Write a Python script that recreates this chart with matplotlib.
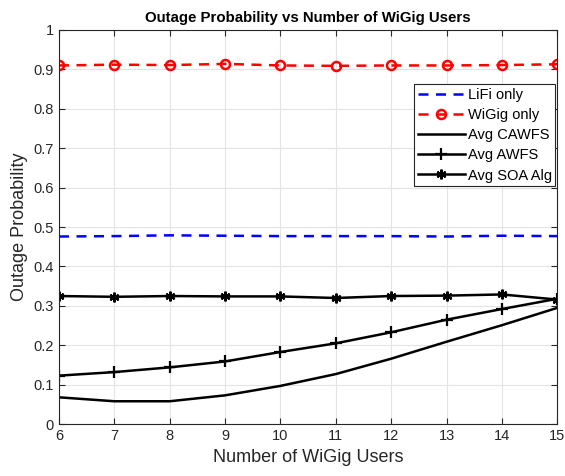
import matplotlib.pyplot as plt

plt.rcParams['font.family'] = ['Liberation Sans', 'DejaVu Sans']

users = [6, 7, 8, 9, 10, 11, 12, 13, 14, 15]
lifi_only = [0.476, 0.477, 0.479, 0.478, 0.477, 0.477, 0.477, 0.476, 0.478, 0.477]
wigig_only = [0.910, 0.912, 0.911, 0.914, 0.910, 0.909, 0.910, 0.910, 0.911, 0.913]
avg_cawfs = [0.068, 0.058, 0.058, 0.073, 0.097, 0.127, 0.166, 0.209, 0.251, 0.295]
avg_awfs = [0.123, 0.132, 0.144, 0.159, 0.183, 0.205, 0.233, 0.265, 0.292, 0.318]
avg_soa = [0.325, 0.323, 0.325, 0.324, 0.324, 0.320, 0.325, 0.326, 0.329, 0.316]

fig = plt.figure(figsize=(5.65, 4.76), dpi=100)
ax = fig.add_axes([0.1044, 0.109, 0.882, 0.828])

ax.plot(users, lifi_only, '--', color='blue', lw=1.8, dashes=(4, 3), label='LiFi only')
ax.plot(users, wigig_only, '--', color='red', lw=1.8, dashes=(4, 3), marker='o',
        markersize=6.5, markerfacecolor='none', markeredgewidth=1.8, label='WiGig only')
ax.plot(users, avg_cawfs, '-', color='black', lw=1.8, label='Avg CAWFS')
ax.plot(users, avg_awfs, '-', color='black', lw=1.8, marker='+', markersize=8,
        markeredgewidth=1.6, label='Avg AWFS')
ax.plot(users, avg_soa, '-', color='black', lw=1.8, marker=(6, 2, 0), markersize=7,
        markeredgewidth=1.6, label='Avg SOA Alg')

ax.set_xlim(6, 15)
ax.set_ylim(0, 1)
ax.set_xticks(range(6, 16))
ax.set_yticks([i / 10 for i in range(11)])
ax.set_yticklabels(['0', '0.1', '0.2', '0.3', '0.4', '0.5', '0.6', '0.7', '0.8', '0.9', '1'])
ax.grid(True, color='#e3e3e3', lw=0.8)
ax.set_axisbelow(True)
ax.tick_params(direction='in', labelsize=10.5, colors='#262626', length=4, top=True, right=True)
for s in ax.spines.values():
    s.set_color('#262626')
    s.set_linewidth(0.8)

ax.set_title('Outage Probability vs Number of WiGig Users', fontsize=10.8, fontweight='bold')
ax.set_xlabel('Number of WiGig Users', fontsize=13, color='#262626')
ax.set_ylabel('Outage Probability', fontsize=13, color='#262626')

leg = ax.legend(loc='upper right', bbox_to_anchor=(0.996, 0.862), fontsize=10.5,
                fancybox=False, framealpha=1, edgecolor='#262626', handlelength=3.2,
                borderpad=0.25, labelspacing=0.42, handletextpad=0.2, borderaxespad=0)
leg.get_frame().set_linewidth(0.8)

fig.savefig('out.png', dpi=100)
